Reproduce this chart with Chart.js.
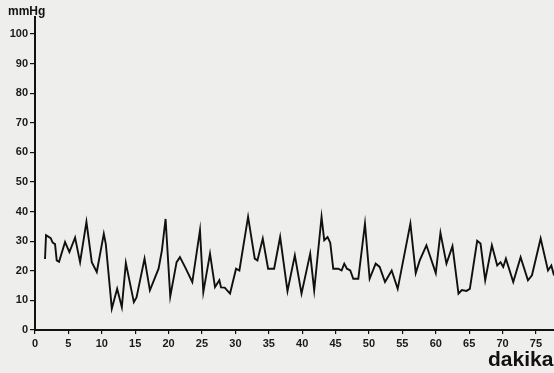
<!DOCTYPE html>
<html>
<head>
<meta charset="utf-8">
<script src="https://cdn.jsdelivr.net/npm/chart.js@4"></script>
<style>
  html, body { margin: 0; padding: 0; background: #eeeeec; }
  #wrap { width: 554px; height: 373px; position: relative; }
</style>
</head>
<body>
<div id="wrap"><canvas id="pressureChart"></canvas></div>
<script>
// values (minutes, mmHg)
const minutes = [1.5, 1.65, 2.35, 2.65, 3.0, 3.25, 3.6, 4.5, 5.15, 6.0, 6.75, 7.7, 8.5, 9.25, 10.3, 10.6,
  11.5, 12.3, 13.0, 13.6, 14.8, 15.2, 16.4, 17.2, 18.5, 19.0, 19.55, 20.25, 21.2, 21.7, 22.45, 23.55,
  24.7, 25.2, 26.2, 26.95, 27.6, 27.85, 28.4, 29.2, 30.1, 30.6, 31.9, 32.9, 33.3, 34.1, 34.9, 35.8,
  36.7, 37.8, 38.9, 39.9, 41.2, 41.8, 42.9, 43.3, 43.8, 44.2, 44.65, 45.4, 45.9, 46.3, 46.7, 47.2,
  47.65, 48.4, 49.4, 50.1, 51.0, 51.6, 52.4, 53.4, 54.3, 56.2, 57.0, 57.6, 58.6, 60.0, 60.7, 61.6,
  62.5, 63.4, 63.9, 64.6, 65.1, 66.2, 66.7, 67.4, 68.4, 69.2, 69.7, 70.1, 70.5, 71.6, 72.7, 73.8,
  74.4, 75.7, 76.8, 77.3, 77.7];
const mmHg = [24, 32, 31, 29.5, 29, 23.5, 23, 29.7, 26.3, 31.2, 22.9, 36.5, 22.9, 19.6, 32.5, 29,
  7.2, 13.9, 7.7, 22.6, 9.4, 11, 24.1, 13.4, 20.7, 26.9, 37.5, 11.3, 22.9, 24.6, 21.3, 16.2,
  33.7, 12.8, 25.8, 14.5, 16.8, 14.4, 14.3, 12.3, 20.7, 20.1, 38.2, 24.1, 23.5, 30.9, 20.7, 20.7,
  31.4, 13.1, 25.2, 12.3, 25.8, 13.4, 38.2, 30.3, 31.4, 29.5, 20.7, 20.7, 20.1, 22.4, 20.7, 20.1,
  17.3, 17.3, 35.9, 17.3, 22.4, 21.3, 16.2, 20.1, 13.9, 35.9, 19.2, 23.5, 28.6, 19.2, 32.8, 22.4,
  28.3, 12.3, 13.5, 13.2, 13.9, 30.1, 29.2, 16.8, 28.6, 21.8, 22.9, 21.3, 24.1, 16.2, 24.6, 16.8,
  18.5, 30.9, 20.1, 21.8, 18.4];

const xTicks = [0, 5, 10, 15, 20, 25, 30, 35, 40, 45, 50, 55, 60, 65, 70, 75];
const yTicks = [0, 10, 20, 30, 40, 50, 60, 70, 80, 90, 100];

const yUnit = 'mmHg';
const xUnit = 'dakika';

// axis titles drawn by hand, like on the printed figure
const axisTitles = {
  id: 'axisTitles',
  afterDraw(chart) {
    const c = chart.ctx;
    c.save();
    c.fillStyle = '#111';
    c.textBaseline = 'alphabetic';
    c.textAlign = 'left';
    c.font = 'bold 12px "Liberation Sans", Arial, sans-serif';
    c.fillText(yUnit, 8, 15);
    c.font = 'bold 21px "Liberation Sans", Arial, sans-serif';
    c.fillText(xUnit, 488, 366);
    c.restore();
  }
};

const tickFont = { family: '"Liberation Sans", Arial, sans-serif', size: 11, weight: 'bold' };

new Chart(document.getElementById('pressureChart'), {
  type: 'line',
  data: {
    datasets: [{
      data: minutes.map((m, i) => ({ x: m, y: mmHg[i] })),
      borderColor: '#101010',
      borderWidth: 1.9,
      pointRadius: 0,
      tension: 0,
      fill: false
    }]
  },
  options: {
    responsive: true,
    maintainAspectRatio: false,
    animation: false,
    layout: { padding: { top: 17, right: 0, left: 0, bottom: 0 } },
    plugins: { legend: { display: false }, tooltip: { enabled: false } },
    scales: {
      x: {
        type: 'linear',
        min: 0,
        max: 77.7,
        afterBuildTicks: s => { s.ticks = xTicks.map(v => ({ value: v })); },
        afterFit: s => { s.height = 43; },
        border: { color: '#111', width: 2 },
        grid: { drawOnChartArea: false, color: '#111', tickLength: 4, lineWidth: 1.2 },
        ticks: { color: '#1a1a1a', font: tickFont, padding: 3, maxRotation: 0, autoSkip: false }
      },
      y: {
        min: 0,
        max: 105.7,
        afterBuildTicks: s => { s.ticks = yTicks.map(v => ({ value: v })); },
        afterFit: s => { s.width = 35; },
        border: { color: '#111', width: 2 },
        grid: { drawOnChartArea: false, color: '#111', tickLength: 5, lineWidth: 1.2 },
        ticks: { color: '#1a1a1a', font: tickFont, padding: 2 }
      }
    }
  },
  plugins: [axisTitles]
});
</script>
</body>
</html>
